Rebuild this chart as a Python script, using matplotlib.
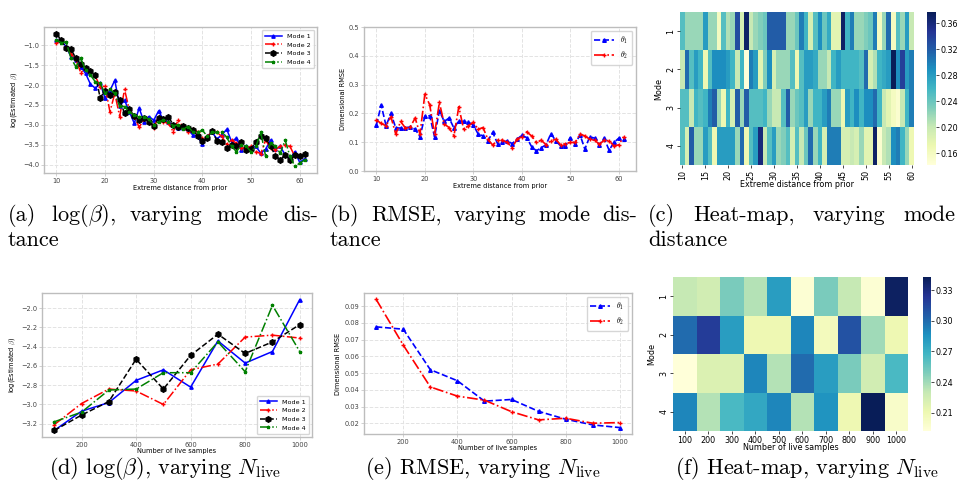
import numpy as np
import matplotlib.pyplot as plt

# ---------------- data ----------------
distance = list(range(10, 62))
live_samples = [100, 200, 300, 400, 500, 600, 700, 800, 900, 1000]

# (a) log(beta) for each mode vs extreme distance
beta_mode1 = [-0.88, -0.88, -1.04, -1.29, -1.36, -1.54, -1.71, -1.98, -2.08, -1.96,
              -2.33, -2.14, -1.88, -2.53, -2.38, -2.67, -2.96, -2.58, -2.92, -2.79,
              -2.88, -2.65, -2.88, -2.92, -3.00, -3.08, -3.07, -3.11, -3.25, -3.29,
              -3.48, -3.27, -3.19, -3.35, -3.25, -3.11, -3.42, -3.33, -3.62, -3.54,
              -3.56, -3.54, -3.71, -3.61, -3.38, -3.61, -3.54, -3.75, -3.86, -3.67,
              -3.94, -3.85]
beta_mode2 = [-0.94, -0.88, -1.08, -1.21, -1.36, -1.69, -1.58, -1.67, -1.78, -2.04,
              -2.03, -2.67, -2.21, -2.79, -2.11, -2.63, -2.79, -3.06, -2.86, -2.88,
              -3.08, -2.79, -2.92, -2.96, -3.17, -2.88, -3.04, -3.17, -3.11, -3.17,
              -3.33, -3.29, -3.17, -3.19, -3.29, -3.48, -3.38, -3.46, -3.58, -3.58,
              -3.54, -3.67, -3.72, -3.38, -3.58, -3.62, -3.54, -3.50, -3.54, -3.79,
              -3.75, -3.75]
beta_mode3 = [-0.71, -0.88, -1.07, -1.10, -1.33, -1.47, -1.58, -1.64, -1.75, -2.32,
              -2.14, -2.25, -2.17, -2.37, -2.71, -2.60, -2.78, -2.87, -2.83, -2.92,
              -3.02, -2.83, -2.86, -2.79, -3.00, -3.06, -3.02, -3.08, -3.12, -3.27,
              -3.40, -3.33, -3.15, -3.40, -3.42, -3.57, -3.50, -3.54, -3.42, -3.62,
              -3.60, -3.42, -3.29, -3.32, -3.54, -3.77, -3.88, -3.75, -3.88, -3.75,
              -3.79, -3.72]
beta_mode4 = [-0.86, -0.94, -0.92, -1.33, -1.54, -1.33, -1.63, -1.75, -1.92, -1.96,
              -2.21, -2.11, -2.21, -2.53, -2.54, -2.67, -2.75, -2.79, -2.79, -2.86,
              -3.00, -2.92, -2.88, -2.92, -3.02, -3.00, -3.11, -3.04, -3.17, -3.19,
              -3.13, -3.29, -3.19, -3.19, -3.17, -3.31, -3.54, -3.67, -3.50, -3.54,
              -3.67, -3.54, -3.19, -3.79, -3.46, -3.54, -3.71, -3.38, -3.79, -4.04,
              -3.96, -3.88]

# (b) RMSE per dimension vs extreme distance
rmse_theta1 = [0.160, 0.229, 0.157, 0.200, 0.150, 0.149, 0.150, 0.153, 0.145, 0.119,
               0.190, 0.192, 0.119, 0.209, 0.172, 0.184, 0.149, 0.174, 0.172, 0.169,
               0.160, 0.128, 0.122, 0.105, 0.134, 0.095, 0.099, 0.105, 0.095, 0.110,
               0.124, 0.116, 0.085, 0.070, 0.081, 0.091, 0.130, 0.105, 0.087, 0.087,
               0.116, 0.093, 0.126, 0.076, 0.119, 0.114, 0.091, 0.114, 0.072, 0.099,
               0.114, 0.110]
rmse_theta2 = [0.177, 0.165, 0.157, 0.188, 0.128, 0.172, 0.149, 0.153, 0.184, 0.128,
               0.267, 0.230, 0.128, 0.238, 0.163, 0.151, 0.122, 0.223, 0.145, 0.157,
               0.169, 0.145, 0.151, 0.110, 0.090, 0.107, 0.107, 0.099, 0.081, 0.110,
               0.119, 0.136, 0.122, 0.099, 0.107, 0.091, 0.105, 0.110, 0.091, 0.095,
               0.099, 0.099, 0.128, 0.122, 0.110, 0.107, 0.093, 0.107, 0.105, 0.087,
               0.091, 0.119]

# (c) heat-map, rows = modes 1..4, columns = distance 10..60
heat_dist = [
    [0.25, 0.22, 0.22, 0.22, 0.22, 0.28, 0.22, 0.22, 0.16, 0.25,
     0.21, 0.22, 0.33, 0.19, 0.37, 0.20, 0.22, 0.23, 0.24, 0.32,
     0.32, 0.32, 0.32, 0.22, 0.22, 0.24, 0.30, 0.26, 0.19, 0.25,
     0.29, 0.24, 0.27, 0.18, 0.18, 0.37, 0.26, 0.30, 0.22, 0.22,
     0.23, 0.24, 0.30, 0.16, 0.22, 0.31, 0.16, 0.25, 0.22, 0.28,
     0.20],
    [0.20, 0.31, 0.25, 0.28, 0.26, 0.17, 0.25, 0.29, 0.29, 0.29,
     0.28, 0.26, 0.20, 0.26, 0.142, 0.30, 0.28, 0.18, 0.23, 0.29,
     0.19, 0.22, 0.22, 0.22, 0.25, 0.17, 0.25, 0.28, 0.28, 0.27,
     0.22, 0.22, 0.20, 0.26, 0.28, 0.26, 0.26, 0.26, 0.26, 0.25,
     0.31, 0.19, 0.21, 0.26, 0.27, 0.28, 0.377, 0.29, 0.34, 0.28,
     0.30],
    [0.25, 0.25, 0.20, 0.26, 0.25, 0.26, 0.30, 0.32, 0.22, 0.17,
     0.26, 0.19, 0.32, 0.22, 0.32, 0.25, 0.25, 0.25, 0.26, 0.22,
     0.20, 0.20, 0.25, 0.32, 0.22, 0.24, 0.25, 0.28, 0.22, 0.26,
     0.26, 0.28, 0.30, 0.22, 0.22, 0.17, 0.28, 0.26, 0.29, 0.26,
     0.29, 0.29, 0.31, 0.26, 0.20, 0.18, 0.16, 0.15, 0.20, 0.26,
     0.30],
    [0.25, 0.19, 0.32, 0.22, 0.22, 0.28, 0.25, 0.17, 0.28, 0.28,
     0.28, 0.28, 0.22, 0.31, 0.17, 0.25, 0.28, 0.36, 0.20, 0.25,
     0.28, 0.22, 0.23, 0.25, 0.19, 0.25, 0.20, 0.24, 0.31, 0.22,
     0.26, 0.19, 0.30, 0.30, 0.30, 0.19, 0.19, 0.20, 0.19, 0.22,
     0.18, 0.18, 0.37, 0.15, 0.20, 0.21, 0.29, 0.30, 0.26, 0.22,
     0.17],
]
heat_dist_labels = [str(d) for d in range(10, 61)]

# (d) log(beta) vs number of live samples
live_mode1 = [-3.27, -3.07, -2.98, -2.75, -2.64, -2.82, -2.34, -2.57, -2.45, -1.91]
live_mode2 = [-3.21, -2.99, -2.84, -2.86, -3.00, -2.64, -2.58, -2.30, -2.28, -2.31]
live_mode3 = [-3.27, -3.11, -2.97, -2.53, -2.84, -2.49, -2.27, -2.47, -2.35, -2.17]
live_mode4 = [-3.18, -3.08, -2.85, -2.84, -2.67, -2.67, -2.35, -2.66, -1.97, -2.45]

# (e) RMSE vs number of live samples
live_theta1 = [0.0776, 0.0762, 0.0520, 0.0454, 0.0332, 0.0342, 0.0271, 0.0224, 0.0190, 0.0174]
live_theta2 = [0.0940, 0.0667, 0.0417, 0.0362, 0.0338, 0.0269, 0.0220, 0.0230, 0.0200, 0.0204]

# (f) heat-map, rows = modes, columns = live samples
heat_live = [
    [0.230, 0.225, 0.250, 0.235, 0.280, 0.195, 0.250, 0.230, 0.195, 0.340],
    [0.300, 0.320, 0.280, 0.210, 0.210, 0.290, 0.205, 0.310, 0.240, 0.210],
    [0.192, 0.220, 0.220, 0.290, 0.235, 0.300, 0.280, 0.250, 0.225, 0.265],
    [0.290, 0.235, 0.265, 0.275, 0.290, 0.235, 0.285, 0.210, 0.343, 0.200],
]
mode_labels = ["1", "2", "3", "4"]

# ---------------- figure ----------------
W, H = 959, 493
plt.rcParams['mathtext.fontset'] = 'cm'
fig = plt.figure(figsize=(W / 100, H / 100), dpi=100)


def box(x0, y0, x1, y1):
    # pixel box (top-left origin) -> figure fraction rect
    return [x0 / W, 1 - y1 / H, (x1 - x0) / W, (y1 - y0) / H]


def style_line_axes(ax):
    for s in ax.spines.values():
        s.set_color('#bdbdbd')
        s.set_linewidth(1.0)
    ax.grid(True, linestyle='--', color='#e3e3e3', linewidth=0.7)
    ax.set_axisbelow(True)
    ax.tick_params(labelsize=4.8, colors='#444444', length=2, width=0.5, pad=1.5)
    ax.tick_params(axis='both', color='#bdbdbd')


mode_styles = [
    dict(color='blue', linestyle='-', marker='^', markersize=2.4),
    dict(color='red', linestyle='-.', marker='+', markersize=2.6),
    dict(color='black', linestyle='--', marker='h', markersize=4.0),
    dict(color='green', linestyle='-.', marker='*', markersize=2.4),
]

# (a)
ax = fig.add_axes(box(44, 27, 317, 173))
for i, ys in enumerate([beta_mode1, beta_mode2, beta_mode3, beta_mode4]):
    ax.plot(distance, ys, linewidth=1.1, label=f'Mode {i + 1}', **mode_styles[i])
style_line_axes(ax)
ax.set_xlabel('Extreme distance from prior', fontsize=4.8, labelpad=1)
ax.set_ylabel(r'log(Estimated $\beta$)', fontsize=4.8, labelpad=2)
leg = ax.legend(loc='upper right', fontsize=4.6, borderpad=0.5, handlelength=2.6)
leg.get_frame().set_edgecolor('#cccccc')

# (b)
ax = fig.add_axes(box(364, 27, 636, 171))
ax.plot(distance, rmse_theta1, color='blue', linestyle='--', marker='^', markersize=2.6,
        linewidth=1.2, label=r'$\theta_1$')
ax.plot(distance, rmse_theta2, color='red', linestyle='-.', marker='+', markersize=2.6,
        linewidth=1.2, label=r'$\theta_2$')
ax.set_ylim(0, 0.5)
style_line_axes(ax)
ax.set_xlabel('Extreme distance from prior', fontsize=4.8, labelpad=1)
ax.set_ylabel('Dimensional RMSE', fontsize=4.8, labelpad=2)
leg = ax.legend(loc='upper right', fontsize=5.5, borderpad=0.5, handlelength=2.6)
leg.get_frame().set_edgecolor('#cccccc')

# (c) heat-map
ax = fig.add_axes(box(680, 12, 914, 165))
mesh = ax.pcolormesh(np.array(heat_dist), cmap='YlGnBu')
ax.set_xlim(0, len(heat_dist_labels))
ax.set_ylim(len(mode_labels), 0)
xt = np.arange(0, len(heat_dist_labels), 5)
ax.set_xticks(xt + 0.5)
ax.set_xticklabels([heat_dist_labels[i] for i in xt], rotation=90, fontsize=5.8)
ax.set_yticks(np.arange(len(mode_labels)) + 0.5)
ax.set_yticklabels(mode_labels, rotation=90, fontsize=5.8, va='center')
ax.tick_params(length=2, width=0.5, pad=1.5)
for s in ax.spines.values():
    s.set_visible(False)
ax.set_xlabel('Extreme distance from prior', fontsize=5.8, labelpad=0)
ax.set_ylabel('Mode', fontsize=5.8, labelpad=2)
cax = fig.add_axes(box(927, 12, 936, 165))
cb = fig.colorbar(mesh, cax=cax, ticks=[0.16, 0.20, 0.24, 0.28, 0.32, 0.36])
cb.outline.set_visible(False)
cb.ax.tick_params(labelsize=5.8, length=2, width=0.5, pad=1.5)

# (d)
ax = fig.add_axes(box(42, 293, 312, 437))
for i, ys in enumerate([live_mode1, live_mode2, live_mode3, live_mode4]):
    ax.plot(live_samples, ys, linewidth=1.1, label=f'Mode {i + 1}', **mode_styles[i])
style_line_axes(ax)
ax.set_xlabel('Number of live samples', fontsize=4.8, labelpad=0)
ax.set_ylabel(r'log(Estimated $\beta$)', fontsize=4.8, labelpad=2)
leg = ax.legend(loc='lower right', fontsize=4.6, borderpad=0.5, handlelength=2.6)
leg.get_frame().set_edgecolor('#cccccc')

# (e)
ax = fig.add_axes(box(364, 293, 632, 434))
ax.plot(live_samples, live_theta1, color='blue', linestyle='--', marker='^', markersize=2.6,
        linewidth=1.2, label=r'$\theta_1$')
ax.plot(live_samples, live_theta2, color='red', linestyle='-.', marker='+', markersize=2.6,
        linewidth=1.2, label=r'$\theta_2$')
style_line_axes(ax)
ax.set_xlabel('Number of live samples', fontsize=4.8, labelpad=0)
ax.set_ylabel('Dimensional RMSE', fontsize=4.8, labelpad=2)
leg = ax.legend(loc='upper right', fontsize=5.5, borderpad=0.5, handlelength=2.6)
leg.get_frame().set_edgecolor('#cccccc')

# (f) heat-map
ax = fig.add_axes(box(673, 277, 908, 431))
mesh = ax.pcolormesh(np.array(heat_live), cmap='YlGnBu')
ax.set_xlim(0, len(live_samples))
ax.set_ylim(len(mode_labels), 0)
ax.set_xticks(np.arange(len(live_samples)) + 0.5)
ax.set_xticklabels([str(v) for v in live_samples], fontsize=5.8)
ax.set_yticks(np.arange(len(mode_labels)) + 0.5)
ax.set_yticklabels(mode_labels, rotation=90, fontsize=5.8, va='center')
ax.tick_params(length=2, width=0.5, pad=1.5)
for s in ax.spines.values():
    s.set_visible(False)
ax.set_xlabel('Number of live samples', fontsize=5.8, labelpad=-1)
ax.set_ylabel('Mode', fontsize=5.8, labelpad=2)
cax = fig.add_axes(box(923, 277, 931, 431))
cb = fig.colorbar(mesh, cax=cax, ticks=[0.21, 0.24, 0.27, 0.30, 0.33])
cb.outline.set_visible(False)
cb.ax.tick_params(labelsize=5.8, length=2, width=0.5, pad=1.5)

# ---------------- captions ----------------
cap = dict(fontsize=16, family='cmr10', va='baseline')
renderer = fig.canvas.get_renderer()


def justify(words, x0, x1, y):
    # spread words across [x0, x1] like a justified LaTeX line
    texts = [fig.text(x0 / W, 1 - y / H, w, ha='left', **cap) for w in words]
    widths = [t.get_window_extent(renderer).width for t in texts]
    gap = (x1 - x0 - sum(widths)) / (len(words) - 1)
    x = x0
    for t, w in zip(texts, widths):
        t.set_x(x / W)
        x += w + gap


justify(['(a)', r'log($\beta$),', 'varying', 'mode', 'dis-'], 8, 318, 221)
fig.text(8 / W, 1 - 246 / H, 'tance', ha='left', **cap)
justify(['(b)', 'RMSE,', 'varying', 'mode', 'dis-'], 330, 637, 221)
fig.text(330 / W, 1 - 246 / H, 'tance', ha='left', **cap)
justify(['(c)', 'Heat-map,', 'varying', 'mode'], 648, 955, 221)
fig.text(648 / W, 1 - 246 / H, 'distance', ha='left', **cap)

fig.text(165 / W, 1 - 474 / H, r'(d) log($\beta$), varying $N_{\mathrm{live}}$', ha='center', **cap)
fig.text(483 / W, 1 - 474 / H, r'(e) RMSE, varying $N_{\mathrm{live}}$', ha='center', **cap)
fig.text(807 / W, 1 - 474 / H, r'(f) Heat-map, varying $N_{\mathrm{live}}$', ha='center', **cap)

fig.savefig('out.png', dpi=100)
